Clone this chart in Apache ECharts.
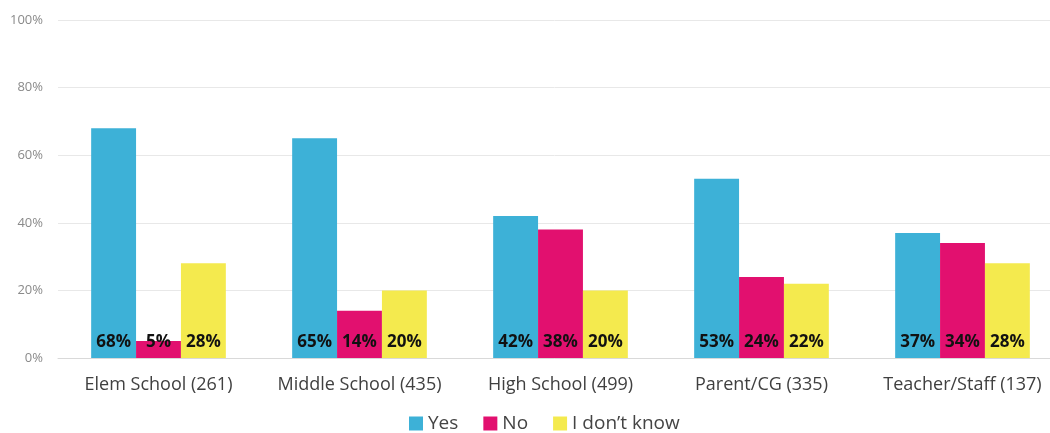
<!DOCTYPE html>
<html><head><meta charset="utf-8">
<script src="https://cdn.jsdelivr.net/npm/echarts@6/dist/echarts.min.js"></script>
<style>html,body{margin:0;padding:0;background:#fff}#c{width:1050px;height:433px}</style>
</head><body><div id="c"></div>
<script>
const categories = ["Elem School (261)", "Middle School (435)", "High School (499)", "Parent/CG (335)", "Teacher/Staff (137)"];
const yesVals = [68, 65, 42, 53, 37];
const noVals = [5, 14, 38, 24, 34];
const idkVals = [28, 20, 20, 22, 28];
const seriesNames = ["Yes", "No", "I don\u2019t know"];
const colors = ["#3DB1D7", "#E2106F", "#F4EA4E"];

const chart = echarts.init(document.getElementById('c'));
const font = "'Open Sans', 'Liberation Sans', sans-serif";
function mk(name, data, color) {
  return {
    name, type: 'bar', data, barGap: '0%', barCategoryGap: '33%',
    itemStyle: { color },
    label: { show: true, position: 'insideBottom', distance: 7, formatter: '{c}%', color: '#111', fontWeight: 'bold', fontSize: 17, fontFamily: font }
  };
}
chart.setOption({
  animation: false,
  textStyle: { fontFamily: font },
  grid: { left: 58, right: -13, top: 20, bottom: 75, outerBoundsMode: 'none', containLabel: false },
  legend: { top: 409, left: 404, itemWidth: 14, itemHeight: 14, itemGap: 25,
    icon: 'rect', textStyle: { fontSize: 19, color: '#444', fontFamily: font } },
  xAxis: { type: 'category', data: categories,
    axisLine: { lineStyle: { color: '#d9d9d9' } }, axisTick: { show: false },
    axisLabel: { interval: 0, fontSize: 18, color: '#404040', margin: 18, fontFamily: font } },
  yAxis: { type: 'value', min: 0, max: 100, interval: 20,
    axisLabel: { formatter: '{value}%', fontSize: 13, color: '#8a8a8a', margin: 15, fontFamily: font },
    splitLine: { lineStyle: { color: '#e8e8e8' } }, axisLine: { show: false }, axisTick: { show: false } },
  series: [mk(seriesNames[0], yesVals, colors[0]), mk(seriesNames[1], noVals, colors[1]), mk(seriesNames[2], idkVals, colors[2])]
});
</script></body></html>
